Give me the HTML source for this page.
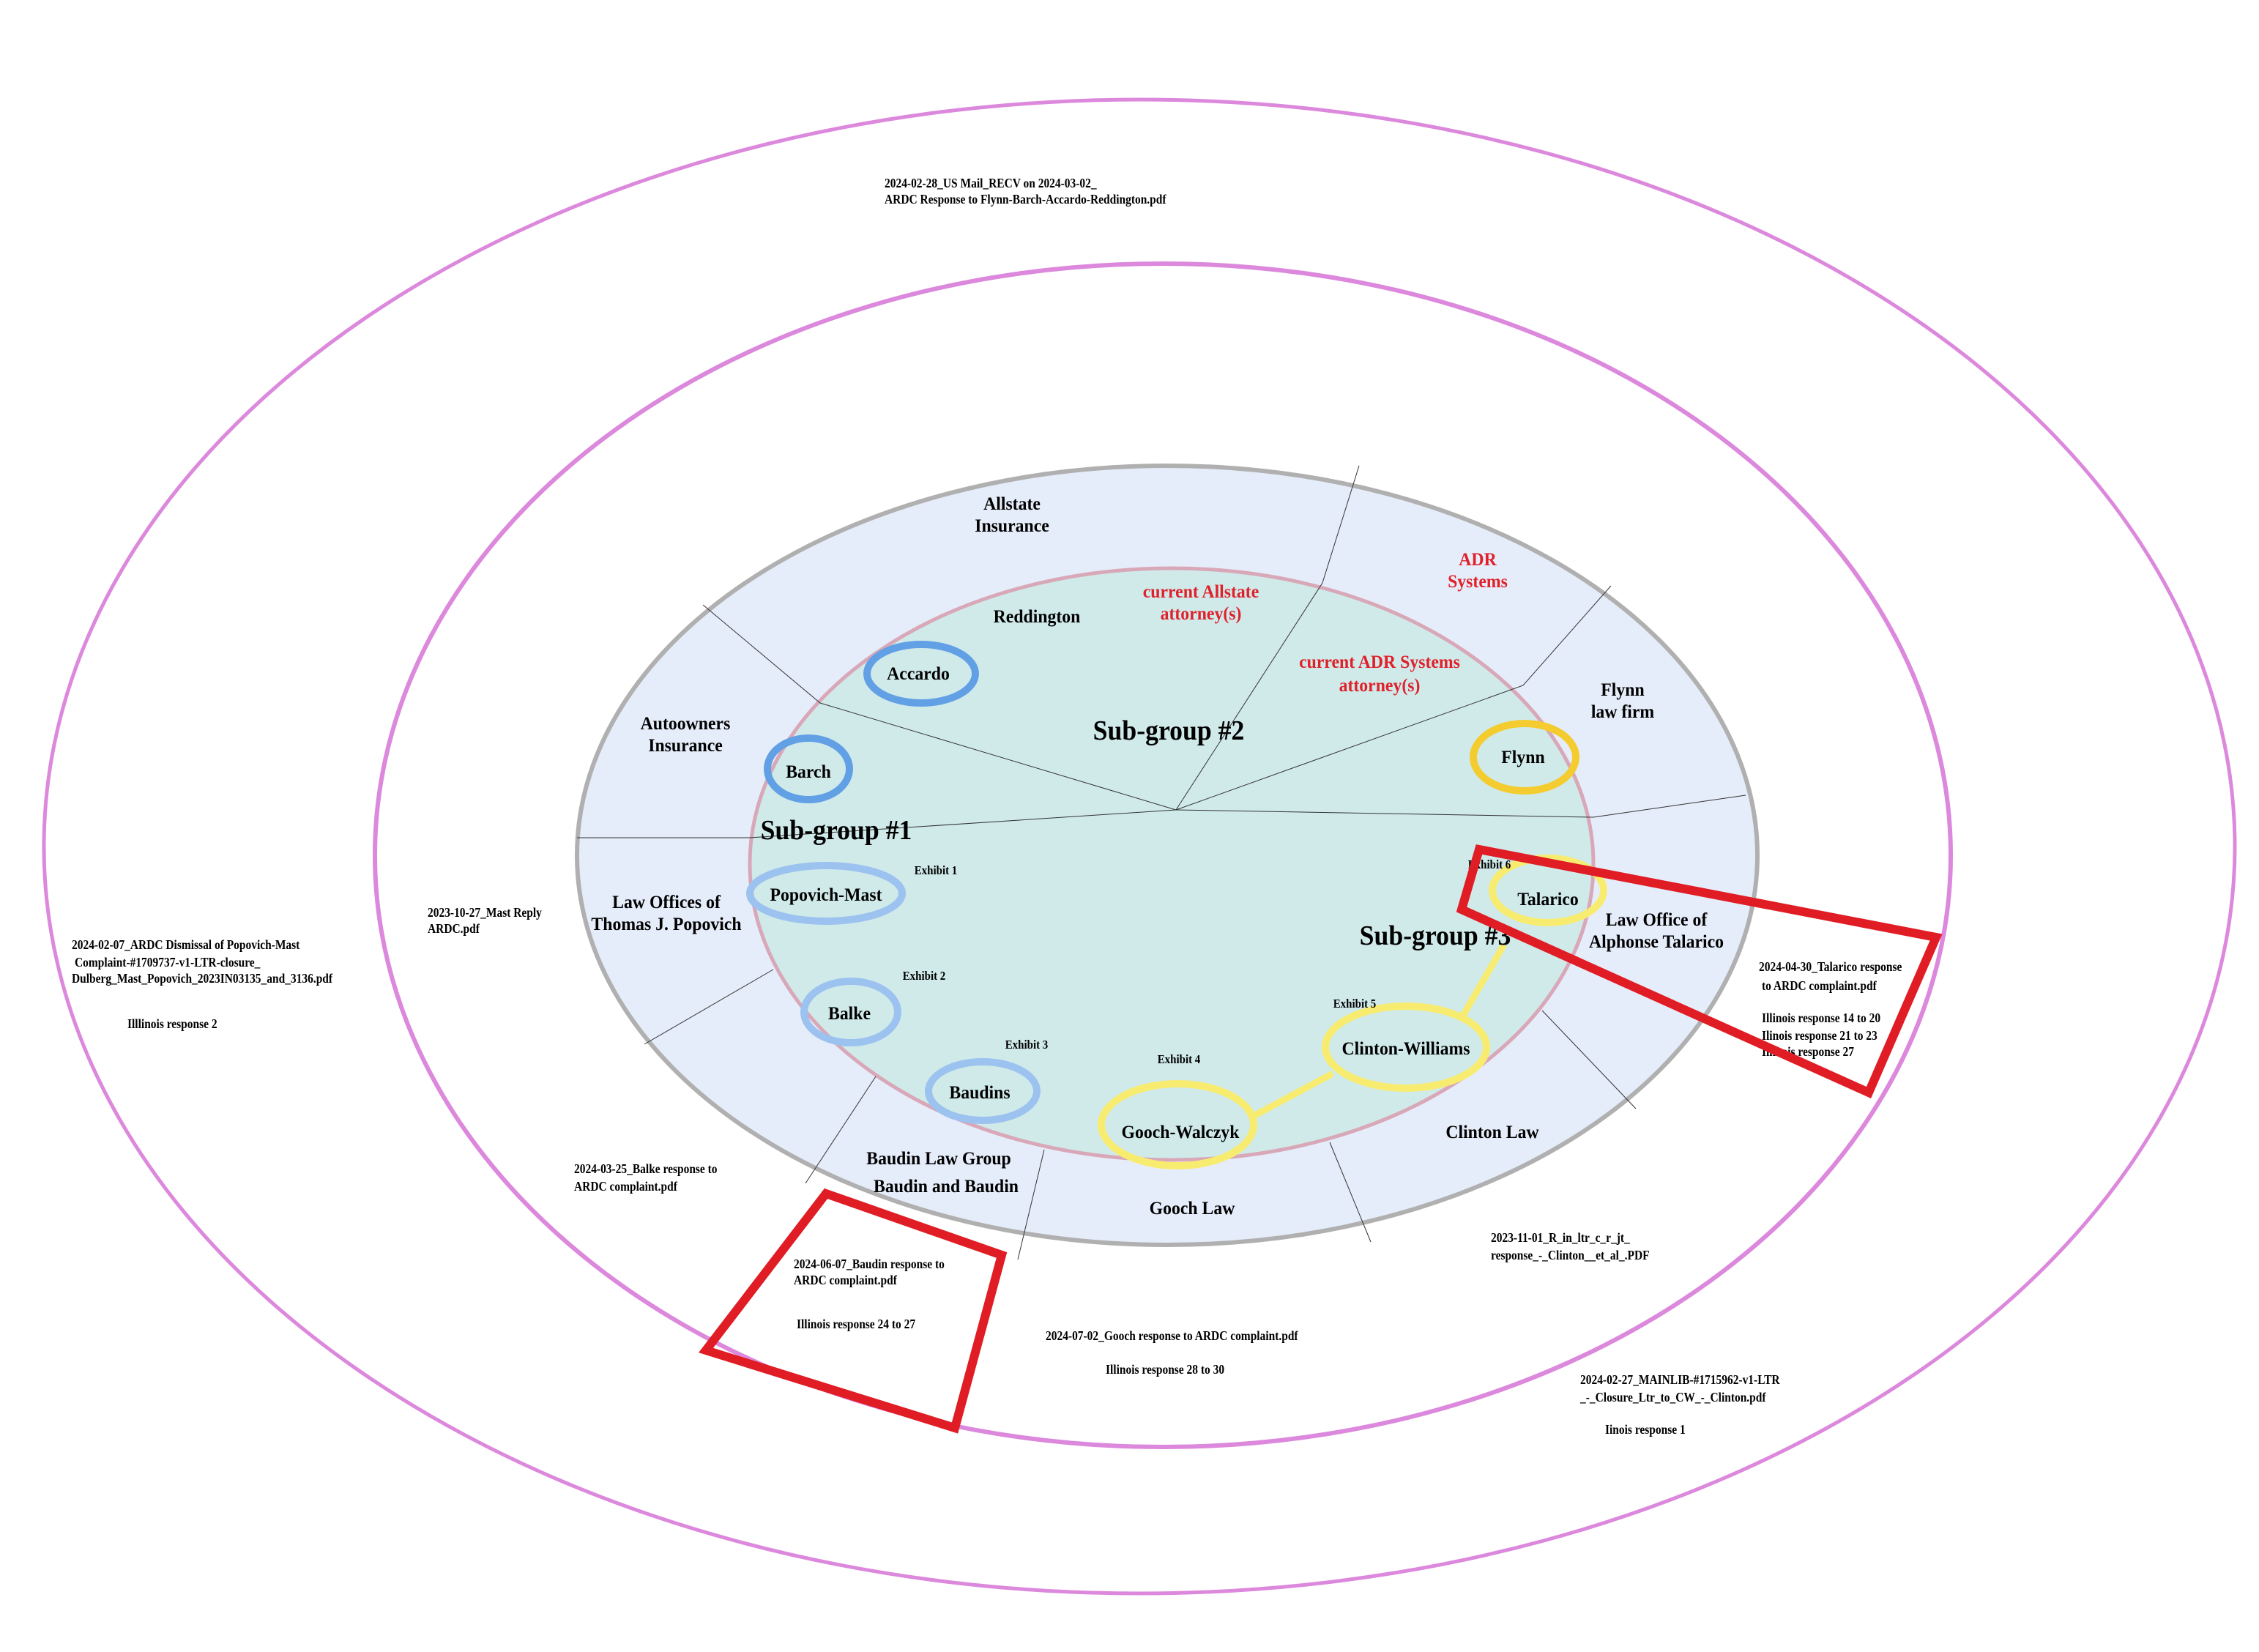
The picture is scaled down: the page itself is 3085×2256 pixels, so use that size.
<!DOCTYPE html>
<html><head><meta charset="utf-8"><style>
html,body{margin:0;padding:0;background:#fff;}
svg{display:block}
text{font-family:"Liberation Serif",serif;font-weight:bold;fill:#000}
.s{font-size:9px}.m{font-size:12.5px}.l{font-size:19px}.e{font-size:8.5px}.r{fill:#e0202a}
</style></head><body>
<svg width="3085" height="2256" viewBox="0 0 1542.5 1128" preserveAspectRatio="none" xmlns="http://www.w3.org/2000/svg">
<rect width="1542.5" height="1128" fill="#fff"/>
<ellipse cx="778" cy="578" rx="748" ry="510" fill="none" stroke="#dc88dc" stroke-width="2.5"/>
<ellipse cx="794" cy="584" rx="538" ry="404" fill="none" stroke="#dc88dc" stroke-width="3"/>
<ellipse cx="797" cy="584" rx="403" ry="266" fill="#e6edfa" stroke="#b0b0b0" stroke-width="3"/>
<ellipse cx="800" cy="590" rx="288" ry="202" fill="#d0eaea" stroke="#d8a8b8" stroke-width="2.5"/>
<g stroke="#333" stroke-width="0.5" fill="none">
<polyline points="803,553 903,398 928,318"/>
<polyline points="803,553 560,480 480,413"/>
<polyline points="803,553 512,572 394,572"/>
<polyline points="803,553 1088,558 1192,543"/>
<polyline points="803,553 1040,468 1100,400"/>
<line x1="440" y1="713" x2="528" y2="662"/>
<line x1="550" y1="808" x2="598" y2="735"/>
<line x1="695" y1="860" x2="713" y2="785"/>
<line x1="908" y1="780" x2="936" y2="848"/>
<line x1="1053" y1="690" x2="1117" y2="757"/>
</g>
<g stroke="#f8ec70" stroke-width="4.5">
<line x1="1027" y1="645" x2="998" y2="695"/>
<line x1="910" y1="733" x2="856" y2="762"/>
</g>
<g fill="none" stroke-width="5">
<ellipse cx="629" cy="460" rx="37" ry="20" stroke="#62a0e6"/>
<ellipse cx="552" cy="525" rx="28" ry="21" stroke="#62a0e6"/>
<ellipse cx="564" cy="610" rx="52" ry="19" stroke="#9cc2f0"/>
<ellipse cx="581" cy="691" rx="32" ry="21" stroke="#9cc2f0"/>
<ellipse cx="671" cy="745" rx="37" ry="20" stroke="#9cc2f0"/>
<ellipse cx="1041" cy="517" rx="35" ry="23" stroke="#f4cc30"/>
<ellipse cx="1057" cy="608" rx="38" ry="22" stroke="#f8ec70"/>
<ellipse cx="960" cy="715" rx="55" ry="28" stroke="#f8ec70"/>
<ellipse cx="804" cy="768" rx="52" ry="28" stroke="#f8ec70"/>
</g>
<g class="s">
<text transform="translate(604 128) scale(.86 1)">2024-02-28_US Mail_RECV on 2024-03-02_</text>
<text transform="translate(604 139) scale(.86 1)">ARDC Response to Flynn-Barch-Accardo-Reddington.pdf</text>
<text transform="translate(292 626) scale(.86 1)">2023-10-27_Mast Reply</text>
<text transform="translate(292 637) scale(.86 1)">ARDC.pdf</text>
<text transform="translate(49 648) scale(.86 1)">2024-02-07_ARDC Dismissal of Popovich-Mast</text>
<text transform="translate(51 660) scale(.86 1)">Complaint-#1709737-v1-LTR-closure_</text>
<text transform="translate(49 671) scale(.86 1)">Dulberg_Mast_Popovich_2023IN03135_and_3136.pdf</text>
<text transform="translate(87 702) scale(.86 1)">Illlinois response 2</text>
<text transform="translate(1201 663) scale(.86 1)">2024-04-30_Talarico response</text>
<text transform="translate(1203 676) scale(.86 1)">to ARDC complaint.pdf</text>
<text transform="translate(1203 698) scale(.86 1)">Illinois response 14 to 20</text>
<text transform="translate(1203 710) scale(.86 1)">Ilinois response 21 to 23</text>
<text transform="translate(1203 721) scale(.86 1)">Illinois response 27</text>
<text transform="translate(392 801) scale(.86 1)">2024-03-25_Balke response to</text>
<text transform="translate(392 813) scale(.86 1)">ARDC complaint.pdf</text>
<text transform="translate(1018 848) scale(.86 1)">2023-11-01_R_in_ltr_c_r_jt_</text>
<text transform="translate(1018 860) scale(.86 1)">response_-_Clinton__et_al_.PDF</text>
<text transform="translate(542 866) scale(.86 1)">2024-06-07_Baudin response to</text>
<text transform="translate(542 877) scale(.86 1)">ARDC complaint.pdf</text>
<text transform="translate(544 907) scale(.86 1)">Illinois response 24 to 27</text>
<text transform="translate(714 915) scale(.86 1)">2024-07-02_Gooch response to ARDC complaint.pdf</text>
<text transform="translate(755 938) scale(.86 1)">Illinois response 28 to 30</text>
<text transform="translate(1079 945) scale(.86 1)">2024-02-27_MAINLIB-#1715962-v1-LTR</text>
<text transform="translate(1079 957) scale(.86 1)">_-_Closure_Ltr_to_CW_-_Clinton.pdf</text>
<text transform="translate(1096 979) scale(.86 1)">Iinois response 1</text>
</g>
<g class="e" text-anchor="middle">
<text transform="translate(639 597) scale(.88 1)">Exhibit 1</text>
<text transform="translate(631 669) scale(.88 1)">Exhibit 2</text>
<text transform="translate(701 716) scale(.88 1)">Exhibit 3</text>
<text transform="translate(805 726) scale(.88 1)">Exhibit 4</text>
<text transform="translate(925 688) scale(.88 1)">Exhibit 5</text>
<text transform="translate(1017 593) scale(.88 1)">Exhibit 6</text>
</g>
<g class="m" text-anchor="middle">
<text transform="translate(691 348) scale(.95 1)">Allstate</text>
<text transform="translate(691 363) scale(.95 1)">Insurance</text>
<text class="r" transform="translate(1009 386) scale(.95 1)">ADR</text>
<text class="r" transform="translate(1009 401) scale(.95 1)">Systems</text>
<text class="r" transform="translate(820 408) scale(.95 1)">current Allstate</text>
<text class="r" transform="translate(820 423) scale(.95 1)">attorney(s)</text>
<text transform="translate(708 425) scale(.95 1)">Reddington</text>
<text class="r" transform="translate(942 456) scale(.95 1)">current ADR Systems</text>
<text class="r" transform="translate(942 472) scale(.95 1)">attorney(s)</text>
<text transform="translate(627 464) scale(.95 1)">Accardo</text>
<text transform="translate(1108 475) scale(.95 1)">Flynn</text>
<text transform="translate(1108 490) scale(.95 1)">law firm</text>
<text transform="translate(1040 521) scale(.95 1)">Flynn</text>
<text transform="translate(468 498) scale(.95 1)">Autoowners</text>
<text transform="translate(468 513) scale(.95 1)">Insurance</text>
<text transform="translate(552 531) scale(.95 1)">Barch</text>
<text transform="translate(564 615) scale(.95 1)">Popovich-Mast</text>
<text transform="translate(455 620) scale(.95 1)">Law Offices of</text>
<text transform="translate(455 635) scale(.95 1)">Thomas J. Popovich</text>
<text transform="translate(1057 618) scale(.95 1)">Talarico</text>
<text transform="translate(1131 632) scale(.95 1)">Law Office of</text>
<text transform="translate(1131 647) scale(.95 1)">Alphonse Talarico</text>
<text transform="translate(580 696) scale(.95 1)">Balke</text>
<text transform="translate(960 720) scale(.95 1)">Clinton-Williams</text>
<text transform="translate(669 750) scale(.95 1)">Baudins</text>
<text transform="translate(806 777) scale(.95 1)">Gooch-Walczyk</text>
<text transform="translate(1019 777) scale(.95 1)">Clinton Law</text>
<text transform="translate(641 795) scale(.95 1)">Baudin Law Group</text>
<text transform="translate(646 814) scale(.95 1)">Baudin and Baudin</text>
<text transform="translate(814 829) scale(.95 1)">Gooch Law</text>
</g>
<g class="l" text-anchor="middle">
<text transform="translate(798 505) scale(.94 1)">Sub-group #2</text>
<text transform="translate(571 573) scale(.94 1)">Sub-group #1</text>
<text transform="translate(980 645) scale(.94 1)">Sub-group #3</text>
</g>
<g fill="none" stroke="#e01c24" stroke-width="6" stroke-linejoin="miter">
<polygon points="1010,580 1322,640 1276,746 998,621"/>
<polygon points="564,815 684,857 652,975 482,922"/>
</g>
</svg>
</body></html>
